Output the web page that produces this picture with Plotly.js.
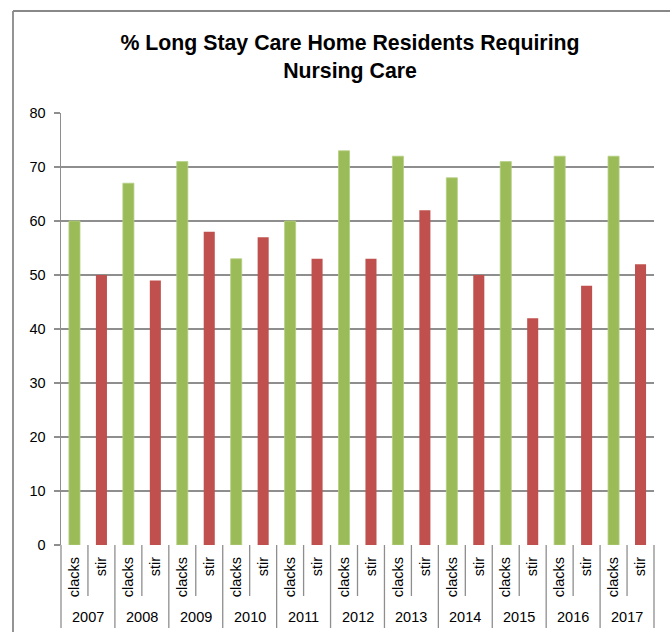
<!DOCTYPE html>
<html>
<head>
<meta charset="utf-8">
<script src="https://cdn.plot.ly/plotly-3.0.1.min.js"></script>
<style>html,body{margin:0;padding:0;background:#fff;}#chart{width:670px;height:632px;}</style>
</head>
<body>
<div id="chart"></div>
<script>
var years = ['2007','2008','2009','2010','2011','2012','2013','2014','2015','2016','2017'];
var seriesNames = ['clacks','stir'];
var clacks = [60,67,71,53,60,73,72,68,71,72,72];
var stir = [50,49,58,57,53,53,62,50,42,48,52];
var yTicks = [0,10,20,30,40,50,60,70,80];

var FONT = 'Liberation Sans, Arial, sans-serif';
var GRID = '#8e8e8e';
var nSlots = years.length * seriesNames.length;

var xClacks = years.map(function(_, i){ return i*2; });
var xStir = years.map(function(_, i){ return i*2+1; });

var tickvals = [], ticktext = [];
years.forEach(function(y, i){
  seriesNames.forEach(function(s, j){ tickvals.push(i*2+j); ticktext.push(s); });
});

var traces = [
  {type:'bar', x:xClacks, y:clacks, name:'clacks', width:0.41,
   marker:{color:'#9BBB59', line:{color:'#b4cf82', width:0.8}}, hoverinfo:'y'},
  {type:'bar', x:xStir, y:stir, name:'stir', width:0.41,
   marker:{color:'#C0504D', line:{width:0}}, hoverinfo:'y'}
];

var plotW = 593, plotH = 432;
var innerBottom = -51/plotH;
var yearBottom = -83/plotH;
var shapes = [];
for (var k = 0; k <= nSlots; k++) {
  var isYear = (k % 2 === 0);
  var sh = {type:'line', yref:'paper', y0:0, y1: isYear ? yearBottom : innerBottom,
            line:{color:GRID, width:1.3}};
  if (k === 0 || k === nSlots) { sh.xref = 'paper'; sh.x0 = sh.x1 = k/nSlots; }
  else { sh.xref = 'x'; sh.x0 = sh.x1 = k - 0.5; }
  shapes.push(sh);
}
// outer chart border (left and top edges; right and bottom run off the picture)
var bx = -48/plotW, by = 534/plotH;
shapes.push({type:'line', xref:'paper', yref:'paper', x0:bx, x1:bx, y0:by, y1:-0.3,
  line:{color:'#888888', width:1.8}});
shapes.push({type:'line', xref:'paper', yref:'paper', x0:bx, x1:1.2, y0:by, y1:by,
  line:{color:'#888888', width:1.8}});

var annotations = years.map(function(y, i){
  return {xref:'x', yref:'paper', x:i*2+0.5, y:-72/plotH, text:y, showarrow:false,
          xanchor:'center', yanchor:'middle', font:{family:FONT, size:14.5, color:'#000'}};
});

var layout = {
  width:670, height:632,
  margin:{l:61, r:16, t:113, b:87},
  paper_bgcolor:'#fff', plot_bgcolor:'#fff',
  showlegend:false,
  bargap:0.6,
  title:{text:'<b>% Long Stay Care Home Residents Requiring<br>Nursing Care</b>',
         font:{family:FONT, size:21.3, color:'#000'},
         xref:'container', x:350/670, xanchor:'center',
         yref:'container', y:1-50/632, yanchor:'top'},
  xaxis:{range:[-0.5, nSlots-0.5], showgrid:false, zeroline:false,
         showline:false, ticks:'', tickmode:'array', tickvals:tickvals, ticktext:ticktext,
         tickangle:-90, ticklabelstandoff:8,
         tickfont:{family:FONT, size:14.5, color:'#000'}, fixedrange:true},
  yaxis:{range:[0,80], tickmode:'array', tickvals:yTicks, showgrid:true, gridcolor:GRID, gridwidth:1.5,
         zeroline:false, showline:true, linecolor:GRID, linewidth:1.5,
         ticks:'outside', ticklen:6, tickcolor:GRID, tickwidth:1.3,
         ticklabelstandoff:5,
         tickfont:{family:FONT, size:14.5, color:'#000'}, fixedrange:true},
  shapes:shapes,
  annotations:annotations
};

Plotly.newPlot('chart', traces, layout, {displayModeBar:false, staticPlot:true});
</script>
</body>
</html>
